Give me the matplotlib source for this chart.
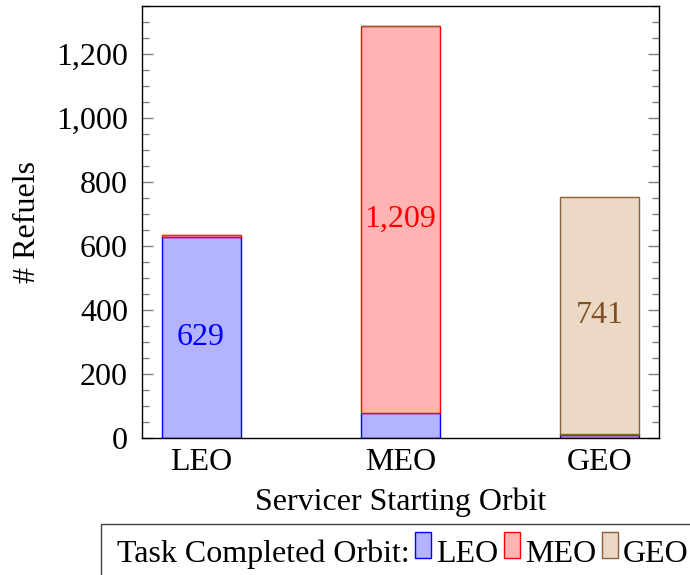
import matplotlib.pyplot as plt
from matplotlib.patches import Rectangle
from matplotlib.offsetbox import HPacker, TextArea, DrawingArea, AnchoredOffsetbox
from matplotlib.ticker import FuncFormatter, MultipleLocator
import numpy as np

plt.rcParams['font.family'] = ['Liberation Serif', 'DejaVu Serif']
plt.rcParams['font.size'] = 23

# starting orbit of the servicer (x) vs. orbit where the task was completed (stack)
start_orbits = ['LEO', 'MEO', 'GEO']
done_leo = [629, 78, 10]
done_meo = [5, 1209, 3]
done_geo = [0, 0, 741]

series = [('LEO', done_leo, '#b3b3ff', '#0000ff', '#0000ff'),
          ('MEO', done_meo, '#ffb3b3', '#ff0000', '#ff0000'),
          ('GEO', done_geo, '#ebd9c6', '#8a6038', '#7f5128')]

fig = plt.figure(figsize=(6.9, 5.75), dpi=100)
ax = fig.add_axes([142/690, 1 - 438/575, 517/690, 432/575])

x = np.arange(len(start_orbits))
bottom = np.zeros(len(start_orbits))
for i, (name, vals, fc, ec, tc) in enumerate(series):
    vals = np.array(vals, dtype=float)
    ax.bar(x, vals, 0.396, bottom=bottom, color=fc, edgecolor=ec, linewidth=1.0, zorder=2)
    # value label in the middle of the diagonal segment
    ax.text(x[i], bottom[i] + vals[i] / 2, f'{int(vals[i]):,}', color=tc,
            ha='center', va='center', zorder=3)
    bottom += vals

ax.set_xlim(-0.296, 2.296)
ax.set_ylim(0, 1350)
ax.set_xticks(x)
ax.set_xticklabels(start_orbits)
ax.tick_params(axis='x', length=0, pad=7.5)

ax.yaxis.set_major_locator(MultipleLocator(200))
ax.yaxis.set_minor_locator(MultipleLocator(50))
ax.yaxis.set_major_formatter(FuncFormatter(lambda v, p: f'{int(v):,}'))
ax.tick_params(axis='y', which='major', direction='in', length=8, width=1,
               color='#808080', left=True, right=True, pad=10)
ax.tick_params(axis='y', which='minor', direction='in', length=5, width=1,
               color='#808080', left=True, right=True)
for s in ax.spines.values():
    s.set_linewidth(1.0)
    s.set_color('black')

ax.set_ylabel('# Refuels', labelpad=10)
ax.set_xlabel('Servicer Starting Orbit', labelpad=7)

# inline legend: caption followed by the three swatches
# (the leading spacer also stretches the frame below the figure edge)
items = [DrawingArea(2.5, 14, 0, 14), TextArea('Task Completed Orbit:')]
for name, vals, fc, ec, tc in series:
    da = DrawingArea(12, 22, 0, 0)
    da.add_artist(Rectangle((0, 2.5), 11.5, 18.7, facecolor=fc, edgecolor=ec, linewidth=1.0))
    items.append(HPacker(children=[da, TextArea(name)], sep=3, pad=0, align='baseline'))
row = HPacker(children=items, sep=4, pad=0, align='baseline')
box = AnchoredOffsetbox(loc='upper left', child=row, pad=0.22, borderpad=0,
                        frameon=True, bbox_to_anchor=(101/690, 1 - 524/575),
                        bbox_transform=fig.transFigure)
box.patch.set_boxstyle('square', pad=0)
box.patch.set_edgecolor('#404040')
box.patch.set_linewidth(1.0)
fig.add_artist(box)

fig.savefig('out.png', dpi=100)
